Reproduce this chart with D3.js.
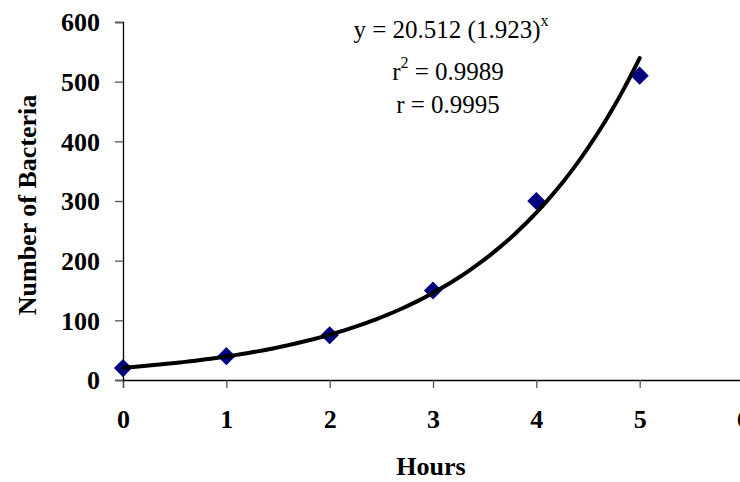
<!DOCTYPE html>
<html>
<head>
<meta charset="utf-8">
<script src="https://cdn.jsdelivr.net/npm/d3@7"></script>
<style>
  body { margin: 0; background: #fff; }
  svg text { font-family: "Liberation Serif", "Times New Roman", serif; }
</style>
</head>
<body>
<svg id="chart"></svg>
<script>
// data
var hours = [0, 1, 2, 3, 4, 5];
var bacteria = [20, 40, 75, 150, 300, 510];
var xTicks = [0, 1, 2, 3, 4, 5, 6];
var yTicks = [0, 100, 200, 300, 400, 500, 600];
// exponential fit shown on the chart
var fitA = 20.512;
var fitB = 1.923;

var width = 740;
var height = 482;

var svg = d3.select("#chart")
    .attr("width", width)
    .attr("height", height);

var x = d3.scaleLinear().domain([0, 6]).range([123, 743]);
var y = d3.scaleLinear().domain([0, 600]).range([380, 22]);

// axes
var xAxis = svg.append("g")
    .attr("transform", "translate(0," + y(0) + ")")
    .call(d3.axisBottom(x).tickValues(xTicks).tickSize(8).tickPadding(22).tickFormat(d3.format("d")));

var yAxis = svg.append("g")
    .attr("transform", "translate(" + x(0) + ",0)")
    .call(d3.axisLeft(y).tickValues(yTicks).tickSize(8).tickPadding(15).tickFormat(d3.format("d")));

[xAxis, yAxis].forEach(function (g) {
    g.select(".domain").attr("stroke", "#000").attr("stroke-width", 1.3);
    g.selectAll(".tick line").attr("stroke", "#555").attr("stroke-width", 1.3);
    g.selectAll(".tick text")
        .attr("fill", "#000")
        .style("font-size", "26px")
        .style("font-weight", "bold")
        .style("font-family", "'Liberation Serif', serif");
});
yAxis.selectAll(".tick text").attr("dy", "0.34em");

// axis titles
svg.append("text")
    .attr("x", 431)
    .attr("y", 475)
    .attr("text-anchor", "middle")
    .style("font-size", "26px")
    .style("font-weight", "bold")
    .text("Hours");

svg.append("text")
    .attr("transform", "translate(36,205) rotate(-90)")
    .attr("text-anchor", "middle")
    .style("font-size", "26px")
    .style("font-weight", "bold")
    .text("Number of Bacteria");

// data points
svg.selectAll("path.pt")
    .data(hours)
    .enter()
    .append("path")
    .attr("class", "pt")
    .attr("d", d3.symbol(d3.symbolSquare, 165))
    .attr("transform", function (d, i) { return "translate(" + x(d) + "," + y(bacteria[i]) + ") rotate(45)"; })
    .attr("fill", "#000080");

// trendline from the fit equation
var fitX = d3.range(0, 5.0001, 0.05);
var line = d3.line()
    .x(function (d) { return x(d); })
    .y(function (d) { return y(fitA * Math.pow(fitB, d)); });

svg.append("path")
    .datum(fitX)
    .attr("d", line)
    .attr("fill", "none")
    .attr("stroke", "#000")
    .attr("stroke-width", 4)
    .attr("stroke-linecap", "round");

// equation text
var eq = svg.append("g").style("font-size", "25px");
var t1 = eq.append("text").attr("x", 451).attr("y", 38).attr("text-anchor", "middle");
t1.append("tspan").text("y = 20.512 (1.923)");
t1.append("tspan").attr("dy", -12).style("font-size", "16px").text("x");

var t2 = eq.append("text").attr("x", 448).attr("y", 80).attr("text-anchor", "middle");
t2.append("tspan").text("r");
t2.append("tspan").attr("dy", -12).style("font-size", "16px").text("2");
t2.append("tspan").attr("dy", 12).text(" = 0.9989");

eq.append("text").attr("x", 448).attr("y", 113).attr("text-anchor", "middle").text("r = 0.9995");
</script>
</body>
</html>
